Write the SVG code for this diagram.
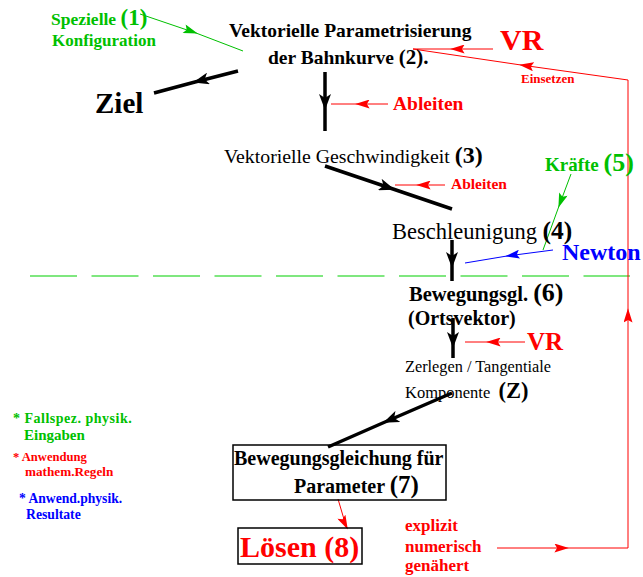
<svg xmlns="http://www.w3.org/2000/svg" width="643" height="577" viewBox="0 0 643 577" font-family="'Liberation Serif', Tinos, 'Times New Roman', serif">
<style>
text{font-family:"Liberation Serif",Tinos,"Times New Roman",serif}
.b{font-weight:bold}
.k{fill:#000}
.r{fill:#ff0000}
.g{fill:#00c000}
.bl{fill:#0000ff}
.thick{stroke:#000;stroke-width:3.5;fill:none}
.rl{stroke:#ff0000;stroke-width:1;fill:none}
.gl{stroke:#00c000;stroke-width:1;fill:none}
.bll{stroke:#0000ff;stroke-width:1;fill:none}
</style>
<defs>
<marker id="ak" viewBox="0 0 16 12" refX="14" refY="6" markerWidth="16" markerHeight="12" markerUnits="userSpaceOnUse" orient="auto"><path d="M0,0 L16,6 L0,12 L4,6 Z" fill="#000"/></marker>
<marker id="ar" viewBox="0 0 16 10" refX="14" refY="5" markerWidth="15" markerHeight="9" markerUnits="userSpaceOnUse" orient="auto"><path d="M0,0 L16,5 L0,10 L3,5 Z" fill="#ff0000"/></marker>
<marker id="ag" viewBox="0 0 16 10" refX="14" refY="5" markerWidth="15" markerHeight="9" markerUnits="userSpaceOnUse" orient="auto"><path d="M0,0 L16,5 L0,10 L3,5 Z" fill="#00c000"/></marker>
<marker id="ab" viewBox="0 0 16 10" refX="14" refY="5" markerWidth="15" markerHeight="9" markerUnits="userSpaceOnUse" orient="auto"><path d="M0,0 L16,5 L0,10 L3,5 Z" fill="#0000ff"/></marker>
</defs>

<g id="connectors">
<line x1="30" y1="276" x2="630" y2="276" stroke="#00d000" stroke-width="1.2" stroke-dasharray="47 14.5"/>
<path class="gl" d="M140,14 L196,33 L243,51" marker-mid="url(#ag)"/>
<path class="thick" d="M238,71 L195,82 L154,93" marker-mid="url(#ak)"/>
<path class="rl" d="M493,49 L452,49 L413,49" marker-mid="url(#ar)"/>
<path class="rl" d="M497,548 L567,548 L628,548" marker-mid="url(#ar)"/>
<path class="rl" d="M628,548 L628,310 L628,80" marker-mid="url(#ar)"/>
<path class="rl" d="M628,80 L521,65 L413,49" marker-mid="url(#ar)"/>
<path class="thick" d="M325,72 L325,108 L325,131" marker-mid="url(#ak)"/>
<path class="rl" d="M388,104 L357,104 L331,104" marker-mid="url(#ar)"/>
<path class="thick" d="M325,166 L393,189 L452,209" marker-mid="url(#ak)"/>
<path class="rl" d="M445,185 L418,185 L395,185" marker-mid="url(#ar)"/>
<path class="gl" d="M571,174 L559,206 L543,250" marker-mid="url(#ag)"/>
<path class="bll" d="M553,250 L507,256 L465,263" marker-mid="url(#ab)"/>
<path class="thick" d="M452,240 L452,266 L452,281" marker-mid="url(#ak)"/>
<path class="thick" d="M453,318 L453,346 L453,358" marker-mid="url(#ak)"/>
<path class="rl" d="M525,342 L488,342 L465,342" marker-mid="url(#ar)"/>
<path class="thick" d="M452,393 L385,422 L328,447" marker-mid="url(#ak)"/>
<path class="rl" d="M338,499 L346,526 L347,528" marker-end="url(#ar)"/>
</g>

<g id="n1">
<text class="b g" x="51" y="25" font-size="17.5">Spezielle <tspan font-size="23">(1)</tspan></text>
<text class="b g" x="52" y="46" font-size="17">Konfiguration</text>
</g>
<g id="n2">
<text class="b k" x="229" y="37" font-size="19.5">Vektorielle Parametrisierung</text>
<text class="b k" x="268" y="64" font-size="19.5">der Bahnkurve <tspan font-size="21">(2).</tspan></text>
</g>
<g id="ziel"><text class="b k" x="95" y="113" font-size="29">Ziel</text></g>
<g id="vr1"><text class="b r" x="500" y="50" font-size="30">VR</text></g>
<g id="einsetzen"><text class="b r" x="521" y="83" font-size="13">Einsetzen</text></g>
<g id="ableiten1"><text class="b r" x="393" y="110" font-size="19.5">Ableiten</text></g>
<g id="n3"><text class="k" x="224" y="163" font-size="19.8">Vektorielle Geschwindigkeit <tspan class="b" font-size="24">(3)</tspan></text></g>
<g id="ableiten2"><text class="b r" x="451" y="189" font-size="15.5">Ableiten</text></g>
<g id="n5"><text class="b g" x="545" y="171" font-size="19">Kräfte <tspan font-size="26">(5)</tspan></text></g>
<g id="n4"><text class="k" x="392" y="239" font-size="22.5">Beschleunigung <tspan class="b" font-size="25.5">(4)</tspan></text></g>
<g id="newton"><text class="b bl" x="562" y="260" font-size="24">Newton</text></g>
<g id="n6">
<text class="b k" x="409" y="301" font-size="20.5">Bewegungsgl. <tspan font-size="26">(6)</tspan></text>
<text class="b k" x="408" y="325" font-size="20">(Ortsvektor)</text>
</g>
<g id="vr2"><text class="b r" x="527" y="350" font-size="25">VR</text></g>
<g id="nz">
<text class="k" x="405" y="372" font-size="16.3">Zerlegen / Tangentiale</text>
<text class="k" x="405" y="398" font-size="16.5" xml:space="preserve">Komponente  <tspan class="b" font-size="22.5">(Z)</tspan></text>
</g>
<g id="n7">
<rect x="233" y="445" width="213" height="55" fill="none" stroke="#000" stroke-width="1.5"/>
<text class="b k" x="234" y="465" font-size="20">Bewegungsgleichung für</text>
<text class="b k" x="294" y="493" font-size="20">Parameter <tspan font-size="25">(7)</tspan></text>
</g>
<g id="n8">
<rect x="238" y="528" width="124" height="36" fill="none" stroke="#000" stroke-width="1.5"/>
<text class="b r" x="240" y="557" font-size="30">Lösen (8)</text>
</g>
<g id="explizit">
<text class="b r" x="405" y="531" font-size="17">explizit</text>
<text class="b r" x="405" y="552" font-size="17">numerisch</text>
<text class="b r" x="405" y="571" font-size="17">genähert</text>
</g>
<g id="legend">
<text class="b g" x="13" y="423" font-size="14" letter-spacing="0.5">* Fallspez. physik.</text>
<text class="b g" x="24" y="440" font-size="15">Eingaben</text>
<text class="b r" x="13" y="461" font-size="12.6">* Anwendung</text>
<text class="b r" x="25" y="476" font-size="13.2">mathem.Regeln</text>
<text class="b bl" x="19" y="503" font-size="13.6">* Anwend.physik.</text>
<text class="b bl" x="26" y="519" font-size="13.7">Resultate</text>
</g>
</svg>
